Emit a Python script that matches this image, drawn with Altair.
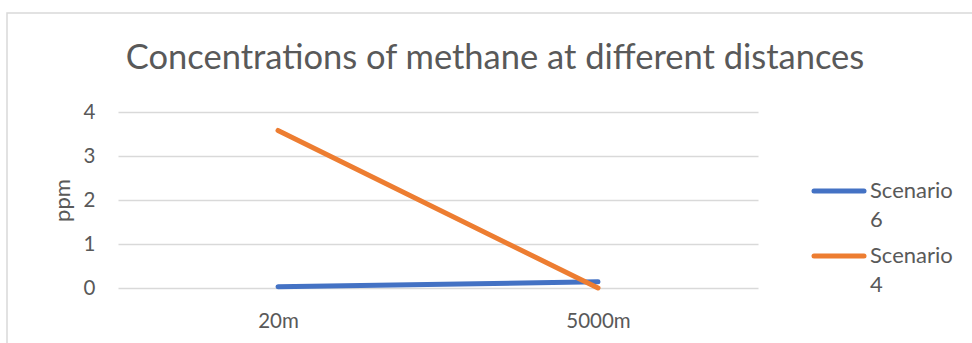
import altair as alt
import pandas as pd

# Methane concentration (ppm) by distance for each scenario
distances = ["20m", "5000m"]
scenario_6 = [0.03, 0.14]
scenario_4 = [3.58, 0.0]
series_names = ["Scenario 6", "Scenario 4"]
series_colors = ["#4472C4", "#ED7D31"]
y_ticks = [0, 1, 2, 3, 4]
title_text = "Concentrations of methane at different distances"

rows = []
for name, values in zip(series_names, [scenario_6, scenario_4]):
    for d, v in zip(distances, values):
        rows.append({"distance": d, "ppm": v, "series": name})
df = pd.DataFrame(rows)

legend_df = pd.DataFrame({"series": series_names, "slot": list(range(len(series_names)))})

FONT = "Lato"
TEXT = "#595959"
GRID = "#D9D9D9"

color = alt.Color(
    "series:N",
    scale=alt.Scale(domain=series_names, range=series_colors),
    legend=None,
)

lines = alt.Chart(df).mark_line(strokeWidth=5, strokeCap="round").encode(
    x=alt.X(
        "distance:N",
        sort=distances,
        scale=alt.Scale(type="point", padding=0.5),
        axis=alt.Axis(title=None, labelAngle=0, domain=False, ticks=False,
                      labelPadding=23, labelFontSize=20.5, labelColor=TEXT,
                      labelFont=FONT, grid=False),
    ),
    y=alt.Y(
        "ppm:Q",
        scale=alt.Scale(domain=[0, 4], nice=False),
        axis=alt.Axis(title="ppm", values=y_ticks, domain=False, ticks=False,
                      labelPadding=23, labelFontSize=20.5, labelColor=TEXT,
                      labelFont=FONT, titleFont=FONT, titleFontSize=22,
                      titleColor=TEXT, titleFontWeight="normal",
                      titlePadding=9, gridColor=GRID, gridWidth=1.5),
    ),
    color=color,
    detail="series:N",
)

# legend entries: a short stroke and a two-line label per series
legend_y = alt.Y("slot:Q", scale=alt.Scale(domain=[0, 1], range=[79, 144]), axis=None)

legend_swatch = alt.Chart(legend_df).mark_rule(strokeWidth=5, strokeCap="round").encode(
    x=alt.value(696), x2=alt.value(746), y=legend_y, color=color,
)

legend_text = alt.Chart(legend_df).transform_calculate(
    lines="split(datum.series, ' ')"
).mark_text(
    align="left", baseline="middle", font=FONT, fontSize=22, color=TEXT,
    lineHeight=29,
).encode(
    x=alt.value(752), y=legend_y, text="lines:N",
)

# chart title drawn as a centred text line
title = alt.Chart(legend_df.head(1)).mark_text(
    align="center", baseline="alphabetic", font=FONT, fontSize=34.5, color=TEXT,
).encode(
    x=alt.value(377), y=alt.value(-43), text=alt.value(title_text),
)

# thin outer frame around the chart area
frame = alt.Chart(legend_df.head(1)).mark_rect(
    fill=None, stroke=GRID, strokeWidth=1.5, clip=False
).encode(
    x=alt.value(-111), x2=alt.value(900),
    y=alt.value(-99), y2=alt.value(300),
)

chart = alt.layer(frame, title, lines, legend_swatch, legend_text).resolve_scale(
    y="independent"
).properties(
    width=640,
    height=176,
    autosize=alt.AutoSizeParams(type="none"),
    padding={"left": 118, "top": 112, "right": 214, "bottom": 55},
).configure(background="white").configure_view(stroke=None)

chart.save("out.html", embed_options={"renderer": "svg", "actions": False})
